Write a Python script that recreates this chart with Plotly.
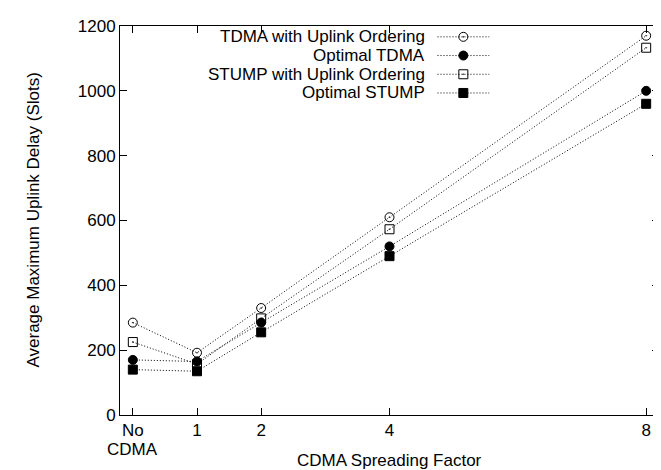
import plotly.graph_objects as go

# ---- data ----
x_vals = [0, 1, 2, 4, 8]
x_ticklabels = ["No", "1", "2", "4", "8"]
x_tick0_second_line = "CDMA"
series_names = ["TDMA with Uplink Ordering", "Optimal TDMA",
                "STUMP with Uplink Ordering", "Optimal STUMP"]
tdma_ordering = [285, 192, 330, 610, 1170]
tdma_optimal = [170, 165, 285, 520, 1000]
stump_ordering = [225, 157, 298, 573, 1133]
stump_optimal = [140, 135, 255, 490, 960]
y_ticks = [0, 200, 400, 600, 800, 1000, 1200]

series_values = [tdma_ordering, tdma_optimal, stump_ordering, stump_optimal]
symbols = ["circle-open-dot", "circle", "square-open-dot", "square"]

FONT = "Liberation Sans, Arial, Helvetica, sans-serif"
FS = 17
DASH = "1px,2px"
MSIZE = 9

fig = go.Figure()
for name, vals, sym in zip(series_names, series_values, symbols):
    fig.add_trace(go.Scatter(
        x=x_vals, y=vals, mode="lines+markers", name=name,
        line=dict(color="black", width=1, dash=DASH),
        marker=dict(symbol=sym, size=MSIZE, color="black",
                    line=dict(color="black", width=1)),
        showlegend=False, cliponaxis=False,
    ))

# ---- custom legend (text on the left, sample on the right) ----
PLOT_TOP, PLOT_H = 12, 395
leg_text_x = 0.567
leg_line_x0, leg_line_x1 = 0.589, 0.685
leg_rows_px = [23, 42, 61, 80]          # distance from image top
leg_rows = [1 - (p - PLOT_TOP) / PLOT_H for p in leg_rows_px]
for name, sym, ry in zip(series_names, symbols, leg_rows):
    fig.add_trace(go.Scatter(
        x=[leg_line_x0, leg_line_x1], y=[ry, ry], mode="lines",
        line=dict(color="black", width=1, dash=DASH),
        xaxis="x2", yaxis="y2", showlegend=False, hoverinfo="skip"))
    fig.add_trace(go.Scatter(
        x=[(leg_line_x0 + leg_line_x1) / 2], y=[ry], mode="markers",
        marker=dict(symbol=sym, size=MSIZE, color="black",
                    line=dict(color="black", width=1)),
        xaxis="x2", yaxis="y2", showlegend=False, hoverinfo="skip"))
    fig.add_annotation(x=leg_text_x, y=ry, xref="x2", yref="y2",
                       text=name, showarrow=False, xanchor="right",
                       yanchor="middle", borderpad=0,
                       font=dict(family=FONT, size=FS, color="black"))

# second line of the first x tick label
fig.add_annotation(x=x_vals[0], y=0, xref="x", yref="paper",
                   text=x_tick0_second_line, showarrow=False,
                   xanchor="center", yanchor="middle", yshift=-34,
                   borderpad=0,
                   font=dict(family=FONT, size=FS, color="black"))

# axis titles
fig.add_annotation(x=0.5, y=0, xref="paper", yref="paper",
                   text="CDMA Spreading Factor", showarrow=False,
                   xanchor="center", yanchor="bottom", yshift=-56,
                   borderpad=0,
                   font=dict(family=FONT, size=FS, color="black"))
fig.add_annotation(x=0, y=0.5, xref="paper", yref="paper",
                   text="Average Maximum Uplink Delay (Slots)",
                   showarrow=False, textangle=-90,
                   xanchor="center", yanchor="middle", xshift=-87,
                   font=dict(family=FONT, size=FS, color="black"))

axis_common = dict(showgrid=False, zeroline=False, showline=True,
                   linecolor="black", linewidth=1, mirror="ticks",
                   ticks="inside", ticklen=7, tickcolor="black",
                   tickwidth=1,
                   tickfont=dict(family=FONT, size=FS, color="black"))

fig.update_layout(
    width=661, height=470,
    margin=dict(l=112, r=9, t=PLOT_TOP, b=470 - PLOT_TOP - PLOT_H),
    plot_bgcolor="white", paper_bgcolor="white",
    font=dict(family=FONT, size=FS, color="black"),
    xaxis=dict(range=[-0.2, 8.2], tickvals=x_vals, ticktext=x_ticklabels,
               ticklabelstandoff=0, **axis_common),
    yaxis=dict(range=[0, 1200], tickvals=y_ticks, ticklabelstandoff=0,
               **axis_common),
    xaxis2=dict(overlaying="x", range=[0, 1], visible=False),
    yaxis2=dict(overlaying="y", range=[0, 1], visible=False),
)

fig.write_html("out.html")
